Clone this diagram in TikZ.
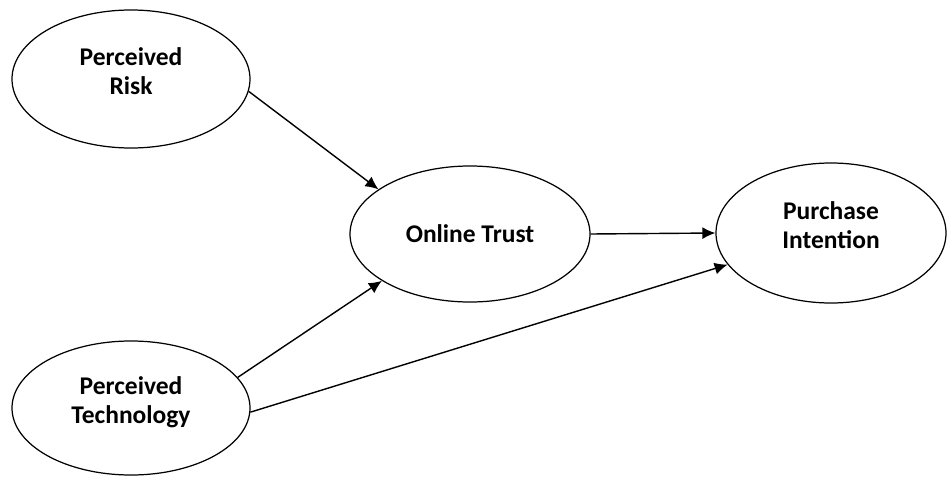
\documentclass[tikz,border=0pt]{standalone}
\usepackage{fontspec}
\setsansfont{Carlito}
\usetikzlibrary{arrows.meta, shapes}

\begin{document}
\begin{tikzpicture}[
    % GLOBAL CFG
    font=\sffamily\bfseries\fontsize{14.5}{16}\selectfont,
    >={Latex[length=2.6mm,width=2.4mm]},
    % Styles
    construct/.style={% For the ellipses
        ellipse,
        draw,
        line width=0.7pt,
        inner sep=0pt,
        align=center,
        },
    twoline/.style={% lifts the two line labels a bit
        text depth=0.32cm,
        },
    ArrowP/.style={% Arrows between constructs
        line width=0.8pt,
        },
    ]

    \useasboundingbox (0,0) rectangle (18.96,-9.58);

    % Draw the constructs
    \node [construct, twoline, minimum width=4.76cm, minimum height=2.76cm] (perc_risk) at (2.62,-1.58) {Perceived\\Risk};
    \node [construct, minimum width=4.8cm, minimum height=2.72cm] (online_trust) at (9.40,-4.68) {Online Trust};
    \node [construct, twoline, minimum width=4.6cm, minimum height=2.8cm] (purchase_int) at (16.62,-4.66) {Purchase\\Intention};
    \node [construct, twoline, minimum width=4.76cm, minimum height=2.68cm] (perc_tech) at (2.62,-8.16) {Perceived\\Technology};

    % Drawing arrows
    \draw [->, ArrowP] (perc_risk.-6) -- (online_trust.154);
    \draw [->, ArrowP] (perc_tech.16) -- (online_trust.208);
    \draw [->, ArrowP] (online_trust.east) -- (purchase_int.west);
    \draw [->, ArrowP] (perc_tech.-2) -- (purchase_int.197);

\end{tikzpicture}
\end{document}
